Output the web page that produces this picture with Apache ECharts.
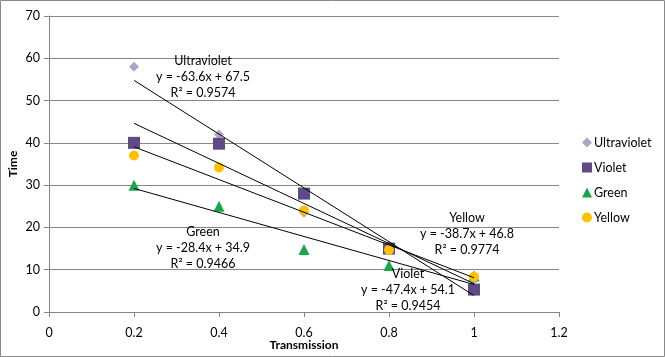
<!DOCTYPE html>
<html><head><meta charset="utf-8">
<script src="https://cdn.jsdelivr.net/npm/echarts@6/dist/echarts.min.js"></script>
<style>html,body{margin:0;padding:0;background:#fff}#c{width:665px;height:357px}</style>
</head><body><div id="c"></div>
<script>
var xValues = [0.2, 0.4, 0.6, 0.8, 1.0];
var seriesNames = ['Ultraviolet', 'Violet', 'Green', 'Yellow'];
var ultraviolet = [58, 42, 23.5, 15.6, 7.6];
var violet = [40, 39.8, 28, 15, 5.3];
var green = [30, 25, 14.8, 11, 8.5];
var yellow = [37, 34.2, 24, 14.7, 8.3];
var slopes = [-63.6, -47.4, -28.4, -38.7];
var intercepts = [67.5, 54.1, 34.9, 46.8];
var r2 = ['0.9574', '0.9454', '0.9466', '0.9774'];
var xTicks = [0, 0.2, 0.4, 0.6, 0.8, 1, 1.2];
var yTicks = [0, 10, 20, 30, 40, 50, 60, 70];

var FONT = 'Lato';
var values = [ultraviolet, violet, green, yellow];
var symbols = ['diamond', 'rect', 'triangle', 'circle'];
var sizes = [10, 12, 11, 10];
var colors = ['#B3A2C7', '#5F4A86', '#14A84A', '#FFC000'];

var series = [];
values.forEach(function (v, i) {
  series.push({
    name: seriesNames[i], type: 'scatter', symbol: symbols[i], symbolSize: sizes[i],
    itemStyle: { color: colors[i], opacity: 1 },
    data: xValues.map(function (x, j) { return [x, v[j]]; })
  });
});
slopes.forEach(function (m, i) {
  var x0 = xValues[0], x1 = xValues[xValues.length - 1];
  series.push({
    name: seriesNames[i] + ' trend', type: 'line', symbol: 'none', silent: true,
    lineStyle: { color: '#000', width: 1 }, z: 5,
    data: [[x0, m * x0 + intercepts[i]], [x1, m * x1 + intercepts[i]]]
  });
});

function label(name, i, cx, cy) {
  var eq = 'y = ' + slopes[i].toFixed(1) + 'x + ' + intercepts[i].toFixed(1);
  var lines = [name, eq, 'R² = ' + r2[i]];
  return lines.map(function (t, k) {
    return { type: 'text', x: cx, y: cy + k * 16, z: 100,
      style: { text: t, fill: '#000', font: '12.5px ' + FONT, textAlign: 'center', textVerticalAlign: 'middle' } };
  });
}

var chart = echarts.init(document.getElementById('c'));
chart.setOption({
  animation: false,
  textStyle: { fontFamily: FONT },
  grid: { left: 49, right: 106, top: 16, bottom: 45, containLabel: false, outerBoundsMode: 'none' },
  xAxis: {
    type: 'value', min: 0, max: 1.2, interval: 0.2,
    name: 'Transmission', nameLocation: 'middle', nameGap: 27, nameMoveOverlap: false,
    nameTextStyle: { fontWeight: 'bold', fontSize: 12, color: '#000', fontFamily: FONT },
    axisLine: { show: true, lineStyle: { color: '#868686' } },
    axisTick: { show: true, length: 5, inside: false, lineStyle: { color: '#868686' } },
    splitLine: { show: false },
    axisLabel: { color: '#000', fontSize: 12.5, margin: 14, fontFamily: FONT,
      formatter: function (v) { return xTicks.indexOf(Math.round(v * 10) / 10) >= 0 ? String(Math.round(v * 10) / 10) : ''; } }
  },
  yAxis: {
    type: 'value', min: 0, max: 70, interval: 10,
    name: 'Time', nameLocation: 'middle', nameGap: 30, nameRotate: 90, nameMoveOverlap: false,
    nameTextStyle: { fontWeight: 'bold', fontSize: 12, color: '#000', fontFamily: FONT },
    axisLine: { show: true, lineStyle: { color: '#868686' } },
    axisTick: { show: true, length: 5, lineStyle: { color: '#868686' } },
    splitLine: { show: true, lineStyle: { color: '#868686', width: 1 } },
    axisLabel: { color: '#000', fontSize: 12.5, margin: 9, fontFamily: FONT,
      formatter: function (v) { return yTicks.indexOf(v) >= 0 ? String(v) : ''; } }
  },
  legend: {
    data: seriesNames, orient: 'vertical', left: 577, top: 131,
    itemWidth: 10, itemHeight: 10, itemGap: 12,
    textStyle: { fontSize: 12.5, color: '#000', fontFamily: FONT, padding: [0, 0, 0, -3] }
  },
  graphic: [
    { type: 'rect', shape: { x: 0.5, y: 0.5, width: 664, height: 356 },
      style: { fill: 'none', stroke: '#888', lineWidth: 1 }, silent: true }
  ].concat(label('Ultraviolet', 0, 203, 61))
   .concat(label('Green', 2, 203, 232))
   .concat(label('Yellow', 3, 467, 218))
   .concat(label('Violet', 1, 408, 274)),
  series: series
});
</script></body></html>
